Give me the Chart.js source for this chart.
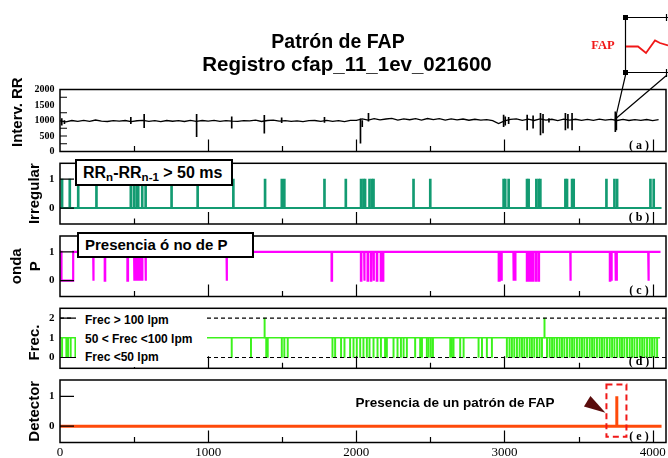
<!DOCTYPE html>
<html>
<head>
<meta charset="utf-8">
<script src="https://cdn.jsdelivr.net/npm/chart.js@4.4.1/dist/chart.umd.min.js"></script>
<style>
html,body{margin:0;padding:0;background:#fff;}
#wrap{position:relative;width:668px;height:458px;overflow:hidden;font-family:Arial,'Liberation Sans',sans-serif;}
#wrap canvas{position:absolute;left:0;}
.t{position:absolute;font-weight:bold;color:#000;white-space:nowrap;transform:translate(-50%,-50%);}
.box{position:absolute;background:#fff;border:2px solid #000;box-sizing:border-box;font-weight:bold;white-space:nowrap;}
.lg{position:absolute;left:9px;font-size:12px;font-weight:bold;transform:translateY(-50%);white-space:nowrap;}
.sb{font-size:0.72em;position:relative;top:3px;}
</style>
</head>
<body>
<div id="wrap">
  <canvas id="cA" width="668" height="90" style="top:70px"></canvas>
  <canvas id="cB" width="668" height="77" style="top:155px"></canvas>
  <canvas id="cC" width="668" height="77" style="top:228px"></canvas>
  <canvas id="cD" width="668" height="76" style="top:300px"></canvas>
  <canvas id="cE" width="668" height="86" style="top:372px"></canvas>
  <canvas id="ov" width="668" height="458" style="top:0;pointer-events:none"></canvas>

  <div class="t" style="left:338px;top:41px;font-size:19.5px">Patrón de FAP</div>
  <div class="t" style="left:347px;top:64px;font-size:20.5px">Registro cfap_11_1ev_021600</div>

  <div class="box" style="left:75px;top:159px;width:158px;height:27px;font-size:16px;line-height:23px;padding-left:6px">RR<span class="sb">n</span>-RR<span class="sb">n-1</span> &gt; 50 ms</div>
  <div class="box" style="left:77px;top:232px;width:177px;height:26px;font-size:15px;line-height:22px;padding-left:6px">Presencia ó no de P</div>

  <div style="position:absolute;left:76px;top:310px;width:131px;height:57px;background:#fff">
    <div class="lg" style="top:10px">Frec &gt; 100 lpm</div>
    <div class="lg" style="top:29px">50 &lt; Frec &lt;100 lpm</div>
    <div class="lg" style="top:47px">Frec &lt;50 lpm</div>
  </div>

  <div class="t" style="left:455px;top:402px;font-size:13.5px">Presencia de un patrón de FAP</div>
</div>

<script>
const X_MAX = 4090;
const xMarks = [500, 1000, 1500, 2000, 2500, 3000, 3500, 4000];
const xLabels = [0, 1000, 2000, 3000, 4000];

// (a) RR intervals, one sample every rrStep beats
const rrStep = 40;
const rrValues = [
  990, 955, 1000, 970, 1002, 975, 1015, 980, 968, 998,
  978, 1000, 965, 992, 1004, 970, 996, 962, 1000, 976,
  998, 968, 1004, 974, 1000, 978, 1002, 970, 996, 980,
  972, 998, 990, 1012, 968, 1000, 1015, 978, 995, 970,
  990, 962, 994, 1000, 970, 1005, 975, 998, 965, 1002,
  1005, 1050, 1015, 1062, 1020, 1048, 1066, 1014, 1055, 1025,
  1060, 1015, 1064, 1028, 1058, 1012, 1050, 1020, 1048, 1008,
  1040, 1012, 1030, 995, 900,
  985, 1035, 1055, 1005, 1045, 1000, 1050, 1010, 1040, 995,
  1045, 1015, 1040, 1005, 1035, 1002, 1042, 1010, 1038, 1000,
  1035, 1000, 1030, 1005, 1032, 998, 1025
];
const rrSpikeX    = [12, 30, 478, 568, 922, 1159, 1379, 1496, 1785, 2028, 2040, 2082, 2994, 3005, 3028, 3153, 3193, 3243, 3260, 3300, 3411, 3428, 3456, 3748, 3755];
const rrSpikeLow  = [850, 900, 900, 770, 480, 750, 590, 930, 940, 270, 800, 980, 800, 850, 900, 695, 750, 535, 600, 950, 700, 750, 700, 641, 700];
const rrSpikeHigh = [1060, 1000, 1100, 1200, 1200, 1120, 1170, 1090, 1100, 1050, 1000, 1230, 1176, 1120, 1100, 1176, 1150, 1230, 1200, 1060, 1230, 1200, 1230, 1282, 1200];
const fapSpikeX = 3748, fapSpikeY = 1050;

// (b) irregular RR flag
const irregX = [14, 66, 123, 246, 478, 499, 517, 528, 555, 578, 753, 929, 1170, 1384, 1497, 1514, 1785, 1929, 2032, 2048, 2059, 2089, 2105, 2116, 2386, 2499, 2994, 3005, 3028, 3152, 3163, 3215, 3231, 3242, 3411, 3422, 3456, 3467, 3688, 3742, 3760, 3985, 4007];
const irregEnd = 4060;

// (c) P wave absent intervals
const noP = [[10, 89], [224, 227], [302, 305], [455, 459], [500, 503], [514, 517], [527, 530], [540, 543], [554, 557], [577, 580], [1124, 1127], [1833, 1836], [2031, 2034], [2053, 2056], [2076, 2079], [2098, 2101], [2116, 2119], [2138, 2141], [2165, 2168], [2179, 2182], [2961, 2967], [2977, 2983], [3060, 3063], [3071, 3075], [3151, 3154], [3164, 3167], [3177, 3180], [3191, 3194], [3211, 3214], [3230, 3233], [3444, 3447], [3711, 3714], [3721, 3724], [3749, 3752], [3756, 3759], [3970, 3974]];
const pEnd = 4053;

// (d) frequency class
const freqDips = [14, 43, 54, 72, 104, 1159, 1289, 1392, 1402, 1497, 1514, 1537, 1839, 1857, 1897, 1920, 1958, 1981, 2003, 2026, 2048, 2071, 2089, 2116, 2143, 2166, 2194, 2206, 2251, 2278, 2301, 2319, 2341, 2397, 2431, 2443, 2476, 2488, 2503, 2517, 2634, 2645, 2656, 2701, 2724, 2825, 2848, 2881, 2915, 3016, 3034, 3050, 3066, 3084, 3102, 3118, 3134, 3152, 3170, 3185, 3201, 3219, 3237, 3253, 3287, 3305, 3321, 3336, 3354, 3372, 3388, 3404, 3422, 3440, 3456, 3471, 3489, 3507, 3523, 3539, 3557, 3575, 3591, 3606, 3624, 3642, 3658, 3674, 3692, 3710, 3726, 3742, 3760, 3778, 3793, 3809, 3827, 3845, 3861, 3877, 3895, 3913, 3929, 3944, 3962, 3980, 3996, 4012, 4030];
const freqUp = [1381, 3270];
const freqLevels = [2, 0];
const freqEnd = 4050;

// (e) detector
const detOn = [[3756, 3759]];
const detEnd = 4060;
const fapBox = [3688, 3823, -0.36, 1.4];

function steps(base, level, spans, end) {
  const pts = [{x: 0, y: base}];
  spans.forEach(([s, e]) => pts.push({x: s, y: base}, {x: s, y: level}, {x: e, y: level}, {x: e, y: base}));
  pts.push({x: end, y: base});
  return pts;
}
const bars = (xs, lo, hi) => xs.map(x => ({x, y: [lo, hi]}));

// box, inward ticks and panel letter
const frame = {
  id: 'frame',
  afterDatasetsDraw(chart, args, o) {
    const {ctx, chartArea: a, scales: {x, y}} = chart;
    ctx.save();
    ctx.strokeStyle = '#000';
    ctx.lineWidth = 1.2;
    ctx.beginPath();
    xMarks.forEach(v => {
      const px = Math.round(x.getPixelForValue(v)) + 0.5;
      ctx.moveTo(px, a.bottom);
      ctx.lineTo(px, a.bottom - (v % 1000 === 0 ? 12 : 5.5));
    });
    o.yMarks.forEach(v => {
      const py = y.getPixelForValue(v);
      ctx.moveTo(a.left, py);
      ctx.lineTo(a.left + o.yLen, py);
    });
    ctx.stroke();
    ctx.lineWidth = 1.5;
    ctx.strokeRect(a.left, a.top, a.right - a.left, a.bottom - a.top);
    ctx.fillStyle = '#000';
    ctx.font = 'bold 12px "Liberation Serif"';
    ctx.textAlign = 'center';
    ctx.textBaseline = 'middle';
    ctx.fillText(o.tag, a.right - 27, a.bottom - 6);
    ctx.restore();
  }
};

// dashed box and arrow around the detection
const fapMark = {
  id: 'fapMark',
  afterDatasetsDraw(chart) {
    const {ctx, scales: {x, y}} = chart;
    const l = x.getPixelForValue(fapBox[0]), r = x.getPixelForValue(fapBox[1]);
    const b = y.getPixelForValue(fapBox[2]), t = y.getPixelForValue(fapBox[3]);
    ctx.save();
    ctx.strokeStyle = '#f01818';
    ctx.lineWidth = 2;
    ctx.setLineDash([6, 4]);
    ctx.strokeRect(l, t, r - l, b - t);
    ctx.setLineDash([]);
    ctx.fillStyle = '#5a0c0c';
    ctx.beginPath();
    ctx.moveTo(l - 22.5, y.getPixelForValue(0.66));
    ctx.lineTo(l - 16, y.getPixelForValue(1.01));
    ctx.lineTo(l - 1, y.getPixelForValue(0.45));
    ctx.closePath();
    ctx.fill();
    ctx.restore();
  }
};

function panel(id, c) {
  return new Chart(document.getElementById(id), {
    type: 'line',
    data: {datasets: c.datasets},
    options: {
      responsive: false,
      animation: false,
      events: [],
      layout: {padding: {top: c.pad[0], bottom: c.pad[1], left: 0, right: 2}},
      elements: {point: {radius: 0}, line: {tension: 0}},
      plugins: {legend: {display: false}, tooltip: {enabled: false}, frame: c.frame},
      scales: {
        x: {
          type: 'linear', min: 0, max: X_MAX,
          display: !!c.xLabels,
          grid: {display: false, drawTicks: false},
          border: {display: false},
          afterBuildTicks: s => { s.ticks = (c.xLabels || []).map(v => ({value: v})); },
          afterFit: s => { s.height = c.xHeight || 0; s.paddingLeft = 0; s.paddingRight = 0; },
          ticks: {color: '#000', font: {family: 'Liberation Serif', size: 13}, padding: 2, maxRotation: 0, autoSkip: false, callback: v => String(v)}
        },
        y: {
          min: c.yMin, max: c.yMax,
          grid: {display: false, drawTicks: false},
          border: {display: false},
          afterBuildTicks: s => { s.ticks = c.yTicks.map(v => ({value: v})); },
          afterFit: s => { s.width = 60; s.paddingTop = 0; s.paddingBottom = 0; },
          ticks: {color: '#000', font: {family: 'Liberation Serif', weight: 'bold', size: c.yFont}, padding: 5.5, autoSkip: false, callback: v => String(v)},
          title: {
            display: true, text: c.title, color: '#000',
            font: {family: 'Arial', weight: 'bold', size: 15, lineHeight: c.titleLH || 1.2},
            padding: {top: c.titlePad, bottom: 0}
          }
        }
      }
    },
    plugins: c.extra ? [frame, c.extra] : [frame]
  });
}

const chartA = panel('cA', {
  pad: [19.5, 8.5], yMin: 0, yMax: 2000, yTicks: [0, 500, 1000, 1500, 2000], yFont: 10,
  title: '    Interv. RR', titlePad: 9,
  frame: {yMarks: [250, 500, 750, 1250, 1750], yLen: 7, tag: '( a )'},
  datasets: [
    {type: 'bar', data: rrSpikeX.map((x, i) => ({x, y: [rrSpikeLow[i], rrSpikeHigh[i]]})),
     backgroundColor: '#000', barThickness: 1, grouped: false},
    {data: rrValues.map((v, i) => ({x: i * rrStep, y: v})), borderColor: '#000', borderWidth: 1.3}
  ]
});

panel('cB', {
  pad: [8.3, 8], yMin: -0.55, yMax: 1.55, yTicks: [0, 1], yFont: 11,
  title: 'Irregular', titlePad: 26,
  frame: {yMarks: [0, 1], yLen: 14, tag: '( b )'},
  datasets: [
    {type: 'bar', data: bars(irregX, 0, 1), backgroundColor: '#139b72', barThickness: 2, grouped: false},
    {data: [{x: 0, y: 0}, {x: irregEnd, y: 0}], borderColor: '#139b72', borderWidth: 2}
  ]
});

panel('cC', {
  pad: [8, 8.5], yMin: -0.55, yMax: 1.55, yTicks: [0, 1], yFont: 11,
  title: ['onda', 'P'], titlePad: 7.5, titleLH: 19 / 15,
  frame: {yMarks: [0, 1], yLen: 14, tag: '( c )'},
  datasets: [
    {data: steps(1, 0, noP, pEnd), borderColor: '#ff00ff', borderWidth: 2.2}
  ]
});

panel('cD', {
  pad: [8.3, 7.7], yMin: -0.55, yMax: 2.5, yTicks: [0, 1, 2], yFont: 11,
  title: 'Frec.  ', titlePad: 26,
  frame: {yMarks: [0, 2], yLen: 14, tag: '( d )'},
  datasets: [
    ...freqLevels.map(v => ({data: [{x: 0, y: v}, {x: X_MAX, y: v}], borderColor: '#000', borderWidth: 1.2, borderDash: [4, 3]})),
    {type: 'bar', data: bars(freqDips, 0, 1), backgroundColor: '#3cf21c', barThickness: 1.3, grouped: false},
    {type: 'bar', data: bars(freqUp, 1, 2), backgroundColor: '#3cf21c', barThickness: 1.3, grouped: false},
    {data: [{x: 0, y: 1}, {x: freqEnd, y: 1}], borderColor: '#3cf21c', borderWidth: 1.5}
  ]
});

panel('cE', {
  pad: [8, 0], xLabels, xHeight: 15.5, yMin: -0.55, yMax: 1.55, yTicks: [0, 1], yFont: 11,
  title: 'Detector', titlePad: 26,
  frame: {yMarks: [0, 1], yLen: 14, tag: '( e )'},
  extra: fapMark,
  datasets: [
    {data: steps(0, 1, detOn, detEnd), borderColor: '#ff4a0a', borderWidth: 3}
  ]
});

// zoom inset above panel (a), pointing at the FAP beat
(function () {
  const ctx = document.getElementById('ov').getContext('2d');
  const top = chartA.canvas.offsetTop;
  const px = chartA.scales.x.getPixelForValue(fapSpikeX);
  const py = chartA.scales.y.getPixelForValue(fapSpikeY) + top;
  ctx.strokeStyle = '#000';
  ctx.lineWidth = 1.2;
  ctx.beginPath();
  ctx.moveTo(625.5, 17.5); ctx.lineTo(668, 17.5);
  ctx.moveTo(625.5, 72.5); ctx.lineTo(668, 72.5);
  ctx.moveTo(625.5, 17.5); ctx.lineTo(625.5, 72.5);
  ctx.moveTo(666.5, 14); ctx.lineTo(666.5, 21);
  ctx.moveTo(666.5, 69); ctx.lineTo(666.5, 77);
  ctx.moveTo(626, 73); ctx.lineTo(px, py);
  ctx.moveTo(667, 75); ctx.lineTo(px, py);
  ctx.stroke();
  ctx.fillStyle = '#000';
  ctx.fillRect(623, 15, 5, 5);
  ctx.fillRect(623, 70, 5, 5);
  ctx.strokeStyle = '#f01818';
  ctx.lineWidth = 1.8;
  ctx.beginPath();
  ctx.moveTo(626, 46.5); ctx.lineTo(638, 46.5); ctx.lineTo(646, 53); ctx.lineTo(655, 40.5); ctx.lineTo(660, 43); ctx.lineTo(668, 45.5);
  ctx.stroke();
  ctx.fillStyle = '#f01818';
  ctx.font = 'bold 12.5px "Liberation Serif"';
  ctx.textAlign = 'center';
  ctx.textBaseline = 'middle';
  ctx.fillText('FAP', 603, 46);
})();
</script>
</body>
</html>
